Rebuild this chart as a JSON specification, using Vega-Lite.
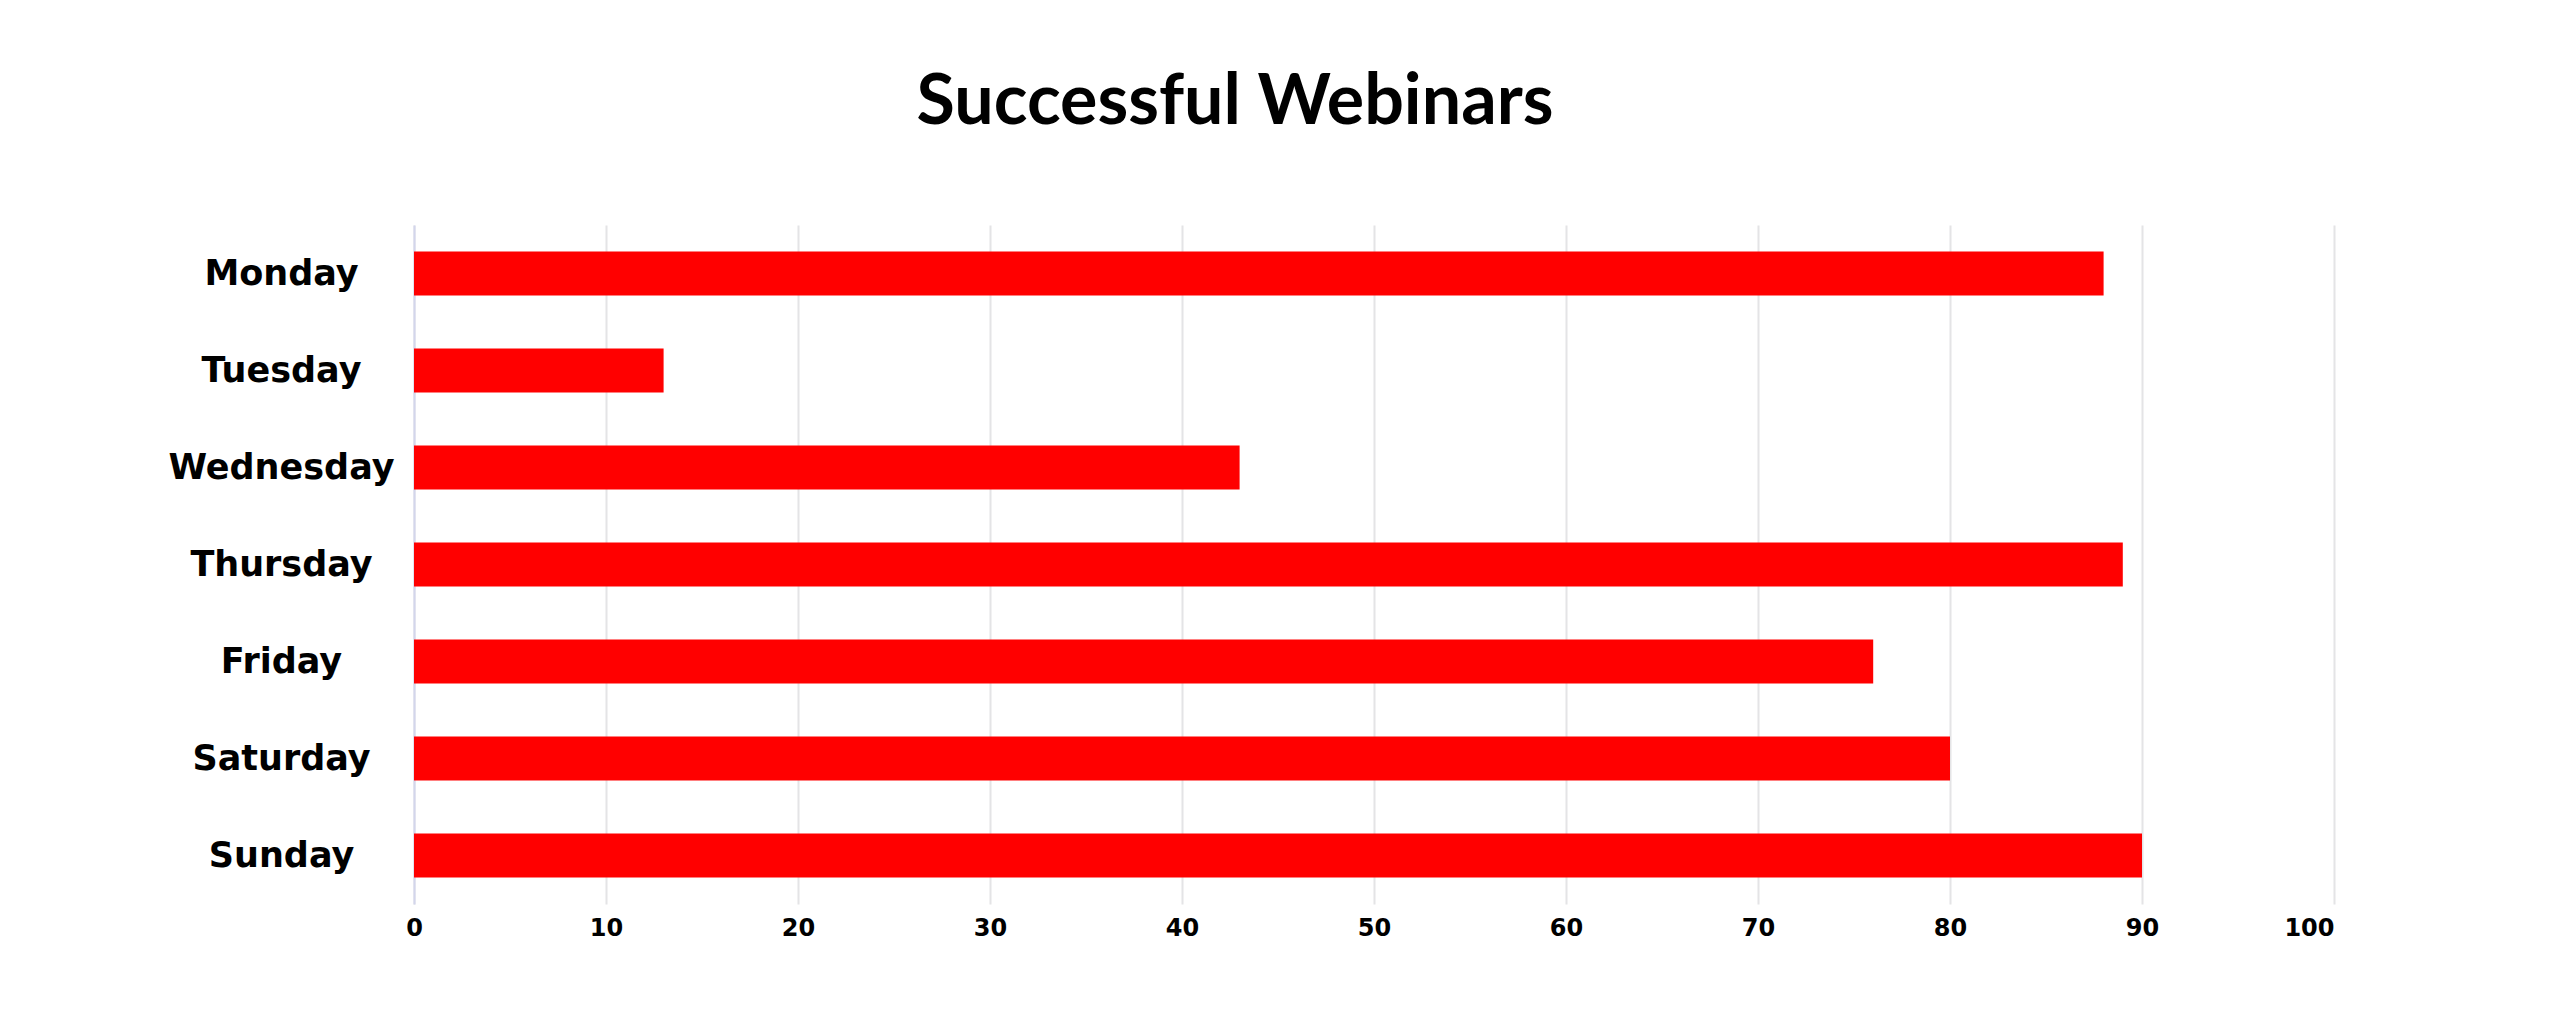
{
  "$schema": "https://vega.github.io/schema/vega-lite/v6.json",
  "autosize": "none",
  "width": 1920,
  "height": 679,
  "padding": {"left": 414, "top": 225, "right": 226, "bottom": 130},
  "background": "white",
  "title": {
    "text": "Successful Webinars",
    "font": "Lato",
    "fontSize": 70,
    "fontWeight": "bold",
    "color": "#000000",
    "anchor": "middle",
    "baseline": "alphabetic",
    "offset": 31,
    "dx": -139
  },
  "data": {
    "values": [
      {"day": "Monday", "count": 88},
      {"day": "Tuesday", "count": 13},
      {"day": "Wednesday", "count": 43},
      {"day": "Thursday", "count": 89},
      {"day": "Friday", "count": 76},
      {"day": "Saturday", "count": 80},
      {"day": "Sunday", "count": 90}
    ]
  },
  "mark": {"type": "bar", "color": "#ff0000"},
  "encoding": {
    "y": {
      "field": "day",
      "type": "nominal",
      "sort": null,
      "scale": {"paddingInner": 0.546, "paddingOuter": 0.273},
      "axis": {
        "title": null,
        "ticks": false,
        "grid": false,
        "domain": true,
        "domainColor": "#d3d6ec",
        "domainWidth": 2,
        "labelFont": "DejaVu Sans",
        "labelFontSize": 35,
        "labelFontWeight": "bold",
        "labelColor": "#000000",
        "labelAlign": "center",
        "labelPadding": 133,
        "labelLimit": 0
      }
    },
    "x": {
      "field": "count",
      "type": "quantitative",
      "scale": {"domain": [0, 100], "nice": false},
      "axis": {
        "title": null,
        "values": [0, 10, 20, 30, 40, 50, 60, 70, 80, 90, 100],
        "ticks": false,
        "domain": false,
        "grid": true,
        "gridColor": "#e4e4e6",
        "gridWidth": 2,
        "labelFont": "DejaVu Sans",
        "labelFontSize": 24,
        "labelFontWeight": "bold",
        "labelColor": "#000000",
        "labelBaseline": "middle",
        "labelAlign": {"expr": "datum.value == 100 ? 'right' : 'center'"},
        "labelPadding": 24,
        "labelFlush": false
      }
    }
  },
  "config": {"view": {"stroke": null}}
}
